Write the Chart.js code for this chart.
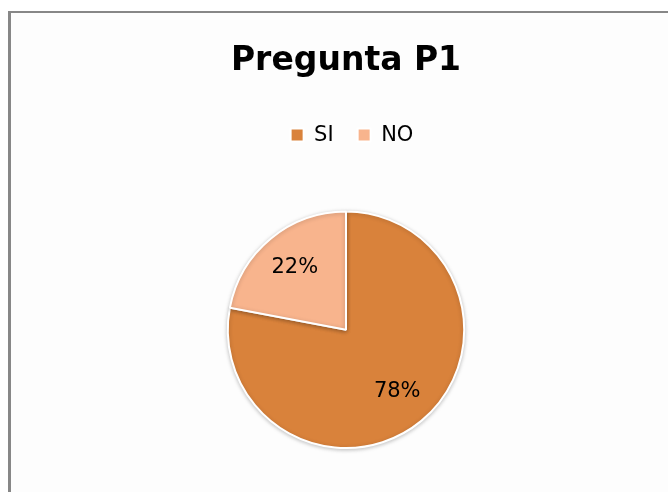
<!DOCTYPE html>
<html lang="es">
<head>
    <meta charset="UTF-8">
    <title>Pregunta P1</title>
    <script src="https://cdn.jsdelivr.net/npm/chart.js"></script>
    <style>
        body {
            margin: 0;
            background-color: #ffffff;
            font-family: "DejaVu Sans", sans-serif;
        }

        #frame {
            position: absolute;
            left: 8px;
            top: 11px;
            right: 0;
            bottom: 0;
            border-left: 3px solid #878787;
            border-top: 2px solid #878787;
            background-color: #fdfdfd;
        }

        #wrap {
            position: absolute;
            left: 0;
            top: 0;
            width: 668px;
            height: 492px;
        }
    </style>
</head>
<body>
    <div id="frame"></div>
    <div id="wrap">
        <canvas id="pieChart"></canvas>
    </div>

    <script>
        // Données du graphique
        const categories = ['SI', 'NO'];
        const valores = [78, 22];
        const colores = ['#d9823b', '#f8b48d'];

        // Hauteur fixe de la légende pour laisser l'espace au-dessus du camembert
        const legendGap = {
            id: 'legendGap',
            beforeInit(chart) {
                const fit = chart.legend.fit;
                chart.legend.fit = function () {
                    fit.bind(chart.legend)();
                    this.height = 110;
                };
            },
            afterLayout(chart) {
                // légère correction horizontale de la légende
                chart.legend.left += 6;
                chart.legend.right += 6;
            }
        };

        // Ombre légère autour du camembert
        const sombra = {
            id: 'sombra',
            beforeDatasetsDraw(chart) {
                const ctx = chart.ctx;
                ctx.save();
                ctx.shadowColor = 'rgba(0,0,0,0.22)';
                ctx.shadowBlur = 4;
                ctx.shadowOffsetY = 1;
            },
            afterDatasetsDraw(chart) {
                chart.ctx.restore();
            }
        };

        // Étiquettes de pourcentage dans les secteurs
        const etiquetas = {
            id: 'etiquetas',
            afterDraw(chart) {
                const ctx = chart.ctx;
                const meta = chart.getDatasetMeta(0);
                const total = valores.reduce((a, b) => a + b, 0);
                ctx.save();
                ctx.font = '21px "DejaVu Sans"';
                ctx.fillStyle = '#000000';
                ctx.textAlign = 'center';
                ctx.textBaseline = 'middle';
                meta.data.forEach((arc, i) => {
                    const p = arc.getProps(['x', 'y', 'startAngle', 'endAngle', 'outerRadius'], true);
                    const mid = (p.startAngle + p.endAngle) / 2;
                    const d = p.outerRadius * 0.68;
                    const txt = Math.round(valores[i] / total * 100) + '%';
                    ctx.fillText(txt, p.x + Math.cos(mid) * d, p.y + Math.sin(mid) * d);
                });
                ctx.restore();
            }
        };

        const ctx = document.getElementById('pieChart').getContext('2d');
        const pieChart = new Chart(ctx, {
            type: 'pie',
            data: {
                labels: categories,
                datasets: [{
                    data: valores,
                    backgroundColor: colores,
                    borderColor: '#ffffff',
                    borderWidth: 2
                }]
            },
            options: {
                responsive: true,
                maintainAspectRatio: false,
                animation: false,
                layout: {
                    padding: { top: 12, left: 24, right: 0, bottom: 43 }
                },
                plugins: {
                    title: {
                        display: true,
                        text: 'Pregunta P1',
                        color: '#000000',
                        font: { family: '"DejaVu Sans"', size: 33, weight: 'bold' },
                        padding: { top: 30, bottom: 19 }
                    },
                    legend: {
                        position: 'top',
                        labels: {
                            color: '#000000',
                            font: { family: '"DejaVu Sans"', size: 21 },
                            boxWidth: 13,
                            boxHeight: 13,
                            padding: 24
                        }
                    },
                    tooltip: { enabled: false }
                }
            },
            plugins: [legendGap, sombra, etiquetas]
        });
    </script>
</body>
</html>
